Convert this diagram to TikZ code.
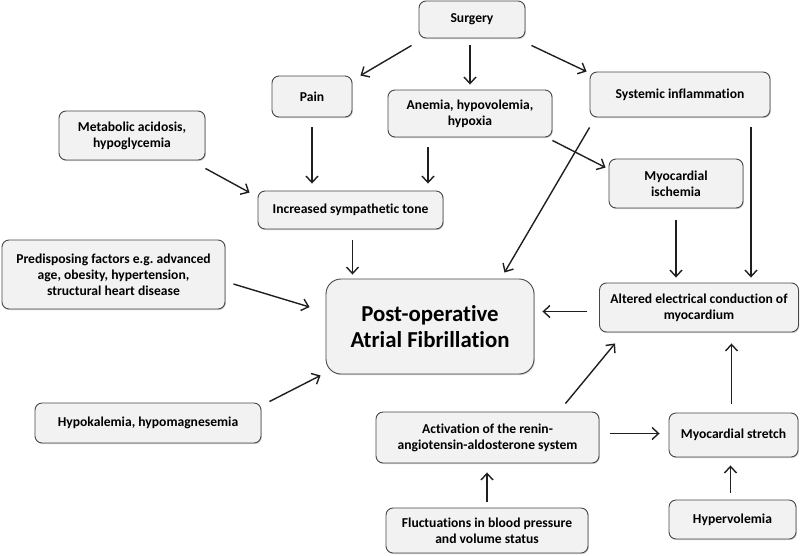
\documentclass[tikz,border=0pt]{standalone}
\usepackage{fontspec}
\setmainfont{Carlito}[Ligatures=NoCommon]
\usetikzlibrary{calc,arrows.meta,shadows}

\tikzset{
  cause/.style={draw=black!72, fill=black!5, rounded corners=7pt, line width=0.9pt,
    align=center, inner sep=0pt, font=\bfseries\fontsize{13.6}{16}\selectfont,
    drop shadow={shadow xshift=0.9pt, shadow yshift=-1.1pt, opacity=0.35}},
  effect/.style={cause, rounded corners=15pt, font=\bfseries\fontsize{22.8}{26}\selectfont},
  link/.style={-{Straight Barb[length=6.5pt,width=12pt]}, line width=1.4pt, black!88}
}

\begin{document}
\begin{tikzpicture}[x=1pt,y=-1pt]
\useasboundingbox (0,0) rectangle (800,555);
% boxes
\node[cause, minimum width=106pt, minimum height=37pt] (surgery) at (472,19.5) {Surgery};
\node[cause, minimum width=80pt, minimum height=41pt] (pain) at (312,96.5) {Pain};
\node[cause, minimum width=164pt, minimum height=47pt] (anemia) at (470,113.5) {Anemia, hypovolemia,\\ hypoxia};
\node[cause, minimum width=180pt, minimum height=45pt] (sysinf) at (680,94.5) {Systemic inflammation};
\node[cause, minimum width=146pt, minimum height=49pt] (metab) at (132,135.5) {Metabolic acidosis,\\ hypoglycemia};
\node[cause, minimum width=134pt, minimum height=49pt] (ischemia) at (676,183.5) {Myocardial\\ ischemia};
\node[cause, minimum width=185pt, minimum height=38pt] (symp) at (350.5,210) {Increased sympathetic tone};
\node[cause, minimum width=223pt, minimum height=69pt] (predis) at (113.5,274.5) {Predisposing factors e.g.\ advanced\\ age, obesity, hypertension,\\ structural heart disease};
\node[effect, minimum width=208pt, minimum height=95pt] (poaf) at (430,326.5) {Post-operative\\ Atrial Fibrillation};
\node[cause, minimum width=199pt, minimum height=49pt] (altered) at (699,307.5) {Altered electrical conduction of\\ myocardium};
\node[cause, minimum width=226pt, minimum height=40pt] (hypok) at (148,423) {Hypokalemia, hypomagnesemia};
\node[cause, minimum width=223pt, minimum height=51pt] (raas) at (487.5,437.5) {Activation of the renin-\\ angiotensin-aldosterone system};
\node[cause, minimum width=129pt, minimum height=44pt] (stretch) at (733.5,435) {Myocardial stretch};
\node[cause, minimum width=202pt, minimum height=45pt] (fluct) at (487,530.5) {Fluctuations in blood pressure\\ and volume status};
\node[cause, minimum width=127pt, minimum height=39pt] (hyperv) at (732.5,519.5) {Hypervolemia};

% arrows
\draw[link] ($(surgery.south west)+(-7,7)$) -- ($(pain.north east)+(8,0)$);
\draw[link, shorten <=7pt, shorten >=5pt] ([xshift=-2pt]surgery.south) -- ([xshift=-2pt]surgery.south |- anemia.north);
\draw[link] ($(surgery.south east)+(6,7)$) -- ($(sysinf.north west)+(-3,0)$);
\draw[link, shorten <=10pt, shorten >=7pt] (pain.south) -- (pain.south |- symp.north);
\draw[link, shorten <=10pt, shorten >=7pt] ([xshift=-42pt]anemia.south) -- ([xshift=-42pt]anemia.south |- symp.north);
\draw[link] ($(metab.south east)+(0,8)$) -- ($(symp.north west)+(-8,2)$);
\draw[link] ($(anemia.south east)+(0,3)$) -- ($(ischemia.north west)+(-3,9)$);
\draw[link] ($(sysinf.south west)+(0,10)$) -- ($(poaf.north east)+(-30,-6)$);
\draw[link, shorten <=10pt, shorten >=5pt] ([xshift=71pt]sysinf.south) -- ([xshift=71pt]sysinf.south |- altered.north);
\draw[link, shorten <=12pt, shorten >=5pt] (ischemia.south) -- (ischemia.south |- altered.north);
\draw[link, shorten <=11pt, shorten >=4pt] ([xshift=2pt]symp.south) -- ([xshift=2pt]symp.south |- poaf.north);
\draw[link] ($(predis.east)+(8,9.5)$) -- ($(poaf.west)+(-16,-19.5)$);
\draw[link] ($(hypok.north east)+(8,-1)$) -- ($(poaf.south west)+(-5,1)$);
\draw[link, shorten <=12pt, shorten >=8pt] ([yshift=-4pt]altered.west) -- ([yshift=-4pt]altered.west -| poaf.east);
\draw[link] ($(raas.north east)+(-34,-8)$) -- ($(altered.south west)+(16,11)$);
\draw[link, shorten <=11pt, shorten >=9pt] ([yshift=4pt]raas.east) -- ([yshift=4pt]raas.east -| stretch.west);
\draw[link, shorten <=6pt, shorten >=9pt] (fluct.north) -- (fluct.north |- raas.south);
\draw[link, shorten <=7pt, shorten >=8pt] ([xshift=-2pt]hyperv.north) -- ([xshift=-2pt]hyperv.north |- stretch.south);
\draw[link, shorten <=9pt, shorten >=11pt] ([xshift=-2pt]stretch.north) -- ([xshift=-2pt]stretch.north |- altered.south);
\end{tikzpicture}
\end{document}
